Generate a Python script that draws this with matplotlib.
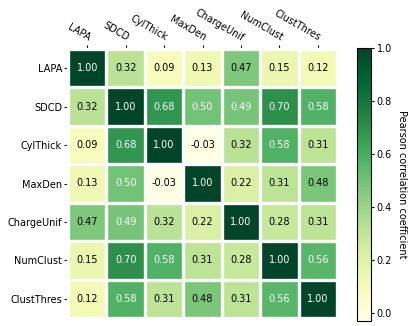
import numpy as np
import matplotlib
matplotlib.use("Agg")
import matplotlib.pyplot as plt

labels = ["LAPA", "SDCD", "CylThick", "MaxDen", "ChargeUnif", "NumClust", "ClustThres"]
corr = np.array([
    [1.00, 0.32, 0.09, 0.13, 0.47, 0.15, 0.12],
    [0.32, 1.00, 0.68, 0.50, 0.49, 0.70, 0.58],
    [0.09, 0.68, 1.00, -0.03, 0.32, 0.58, 0.31],
    [0.13, 0.50, -0.03, 1.00, 0.22, 0.31, 0.48],
    [0.47, 0.49, 0.32, 0.22, 1.00, 0.28, 0.31],
    [0.15, 0.70, 0.58, 0.31, 0.28, 1.00, 0.56],
    [0.12, 0.58, 0.31, 0.48, 0.31, 0.56, 1.00],
])

fs = 7
fig = plt.figure(figsize=(4.13, 3.26), dpi=100)
ax = fig.add_axes([68 / 413, 1 - 318 / 326, 269 / 413, 269 / 326])
cax = fig.add_axes([357 / 413, 1 - 321 / 326, 14 / 413, 273 / 326])

im = ax.imshow(corr, cmap="YlGn", aspect="auto")
cbar = fig.colorbar(im, cax=cax)
cbar.ax.tick_params(labelsize=fs, length=2, pad=2)
cbar.outline.set_linewidth(0.8)
cbar.set_label("Pearson correlation coefficient", rotation=-90, va="bottom", fontsize=fs)

ax.set_xticks(np.arange(len(labels)))
ax.set_yticks(np.arange(len(labels)))
ax.set_xticklabels(labels, fontsize=fs)
ax.set_yticklabels(labels, fontsize=fs)
ax.tick_params(top=True, bottom=False, labeltop=True, labelbottom=False, length=2.8, pad=1.5)
plt.setp(ax.get_xticklabels(), rotation=-30, ha="right", rotation_mode="anchor")

for s in ax.spines.values():
    s.set_visible(False)

# white separators between cells (not clipped so the outer edges are clean)
for k in np.arange(len(labels) + 1) - .5:
    ax.axvline(k, color="w", lw=2.4, clip_on=False)
    ax.axhline(k, color="w", lw=2.4, clip_on=False)

# text colour flips at half the colour range
thresh = im.norm(corr.max()) / 2.
for i in range(corr.shape[0]):
    for j in range(corr.shape[1]):
        c = "white" if im.norm(corr[i, j]) > thresh else "black"
        ax.text(j, i, "%.2f" % corr[i, j], ha="center", va="center", color=c, fontsize=fs)

fig.savefig("out.png", dpi=100)
